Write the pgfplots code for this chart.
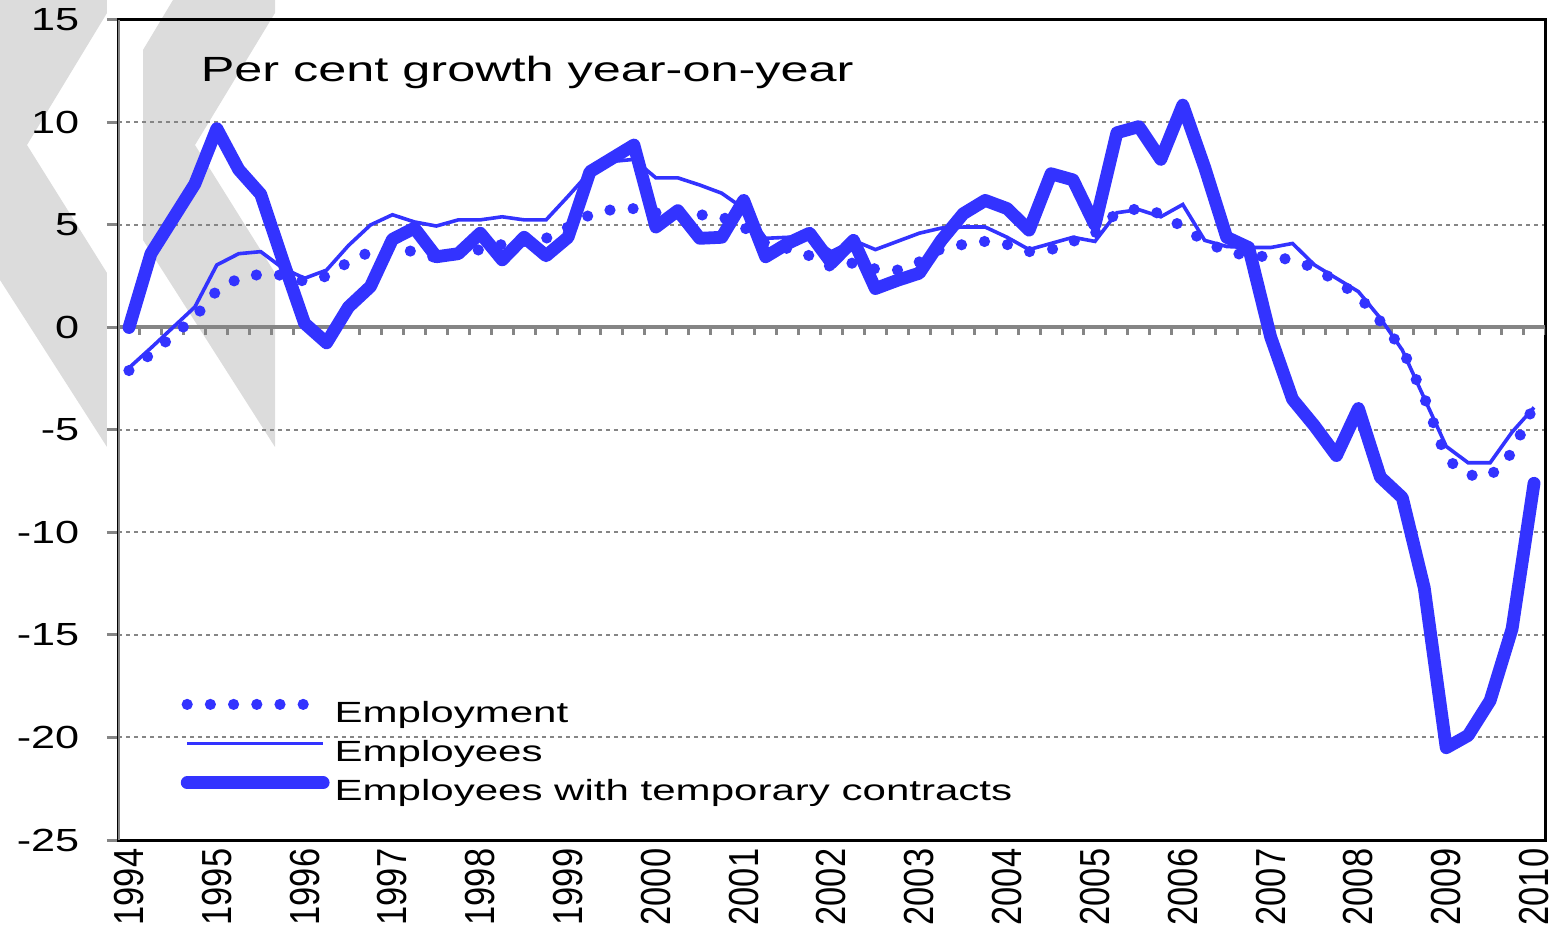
\documentclass[border=0pt]{standalone}
\usepackage{fontspec}
\setmainfont[FakeStretch=1.44]{Liberation Sans}
\newfontfamily\ytfont[FakeStretch=1.35]{Liberation Sans}
\newfontfamily\xtfont[FakeStretch=0.82]{Liberation Sans}
\usepackage{pgfplots}
\usepackage{pgfplotstable}
\pgfplotsset{compat=1.18}
\definecolor{lineblue}{HTML}{3333FF}
\definecolor{markgray}{HTML}{DCDCDC}
\definecolor{axisgray}{HTML}{858585}

% quarterly, 1994Q1 = 0 ... 2010Q1 = 64
\pgfplotstableread{
idx emp ees tmp
0 -2.1 -1.97 0.0
1 -1.3 -1.0 3.6
2 -0.4 0.0 5.3
3 0.5 1.0 7.0
4 1.8 3.05 9.7
5 2.4 3.6 7.7
6 2.6 3.7 6.5
7 2.55 2.9 3.3
8 2.25 2.4 0.2
9 2.5 2.8 -0.75
10 3.2 4.0 1.0
11 3.7 5.0 2.0
12 3.85 5.5 4.3
13 3.7 5.15 4.85
14 3.4 4.95 3.45
15 3.6 5.25 3.6
16 3.8 5.25 4.6
17 4.05 5.4 3.3
18 4.2 5.25 4.4
19 4.35 5.25 3.5
20 4.9 6.4 4.4
21 5.5 7.6 7.6
22 5.75 8.1 8.25
23 5.8 8.2 8.9
24 5.6 7.3 4.9
25 5.5 7.3 5.7
26 5.5 6.95 4.35
27 5.4 6.55 4.4
28 4.9 5.8 6.2
29 4.1 4.35 3.45
30 3.85 4.4 4.1
31 3.5 4.4 4.6
32 2.95 3.7 3.15
33 3.15 4.25 4.25
34 2.85 3.8 1.9
35 2.8 4.2 2.3
36 3.2 4.6 2.65
37 3.85 4.85 4.25
38 4.05 4.9 5.55
39 4.2 4.9 6.2
40 4.05 4.4 5.8
41 3.7 3.8 4.75
42 3.8 4.1 7.5
43 4.2 4.4 7.2
44 4.6 4.2 5.0
45 5.6 5.6 9.5
46 5.8 5.75 9.8
47 5.55 5.4 8.2
48 4.9 6.0 10.85
49 4.2 4.25 7.8
50 3.7 3.95 4.4
51 3.5 3.9 3.9
52 3.45 3.9 -0.45
53 3.3 4.1 -3.5
54 2.9 3.05 -4.8
55 2.25 2.4 -6.25
56 1.55 1.75 -3.95
57 0.3 0.45 -7.3
58 -1.05 -1.1 -8.3
59 -3.4 -3.45 -12.7
60 -6.4 -5.8 -20.5
61 -7.2 -6.6 -19.9
62 -7.25 -6.6 -18.2
63 -6.1 -5.1 -14.7
64 -3.8 -3.9 -7.6
}\datatable

\begin{document}
\begin{tikzpicture}
  % grey chevrons of the logo in the background
  \fill[markgray] (-29.5bp,210bp) -- (-2.75bp,210bp) -- (-2.75bp,206.75bp)
    -- (-22.75bp,173.75bp) -- (-2.75bp,141.75bp) -- (-2.75bp,98.25bp)
    -- (-29.5bp,140bp) -- cycle;
  \fill[markgray] (6.25bp,197.5bp) -- (13.75bp,210bp) -- (39.25bp,210bp)
    -- (39.25bp,206.75bp) -- (19.25bp,173.75bp) -- (39.25bp,141.75bp)
    -- (39.25bp,98.25bp) -- (6.25bp,150bp) -- cycle;

  \begin{axis}[
    at={(0,0)}, anchor=south west,
    width=356.75bp, height=205bp, scale only axis,
    xmin=-0.5, xmax=64.5, ymin=-25, ymax=15,
    axis line style={black, line width=0.75bp},
    xtick={0,4,...,64},
    xticklabels={1994,1995,1996,1997,1998,1999,2000,2001,2002,2003,2004,2005,2006,2007,2008,2009,2010},
    xtick style={draw=none},
    xticklabel style={font=\xtfont\fontsize{10.5bp}{10.5bp}\selectfont,
      rotate=90, anchor=east, inner sep=0pt},
    xticklabel shift=2bp,
    ytick={-25,-20,...,15},
    yticklabels={-25,-20,-15,-10,-5,0,5,10,15},
    ytick pos=left, ytick align=outside, major tick length=2.75bp,
    ytick style={axisgray, line width=0.75bp},
    yticklabel style={font=\ytfont\fontsize{8bp}{8bp}\selectfont, inner sep=0pt},
    yticklabel shift=6.75bp,
    ymajorgrids,
    grid style={axisgray, line width=0.5bp, dash pattern=on 1.1bp off 0.9bp},
    legend style={at={(15.5bp,36.1bp)}, anchor=north west, draw=none, fill=none,
      inner sep=0pt, row sep=0pt,
      font=\fontsize{7.3bp}{7.3bp}\selectfont,
      nodes={inner sep=0pt, text height=6.5bp, text depth=3.3bp},
      /tikz/every odd column/.append style={column sep=1.25bp}},
    legend cell align=left,
    legend image code/.code={\draw[#1] (0bp,2.9bp) -- (34bp,2.9bp);},
  ]
    % grey left axis and the zero line with its small ticks
    \draw[axisgray, line width=1bp] (rel axis cs:0,-0.003) -- (rel axis cs:0,1);
    \draw[axisgray, line width=1bp] (axis cs:-0.5,0) -- (axis cs:64.5,0);
    \pgfplotsinvokeforeach{0,...,64}{
      \draw[axisgray, line width=0.75bp] (axis cs:#1+0.5,0) -- ++(0pt,-2bp);
    }

    \addplot[lineblue, line width=2.8bp, line cap=round,
      dash pattern=on 0bp off 5.8bp] table[x=idx, y=emp] {\datatable};
    \addlegendentry{Employment}
    \addplot[lineblue, line width=0.9bp] table[x=idx, y=ees] {\datatable};
    \addlegendentry{Employees}
    \addplot[lineblue, line width=3.2bp, line cap=round, line join=round]
      table[x=idx, y=tmp] {\datatable};
    \addlegendentry{Employees with temporary contracts}
  \end{axis}

  \node[anchor=base west, inner sep=0pt, font=\fontsize{8.75bp}{8.75bp}\selectfont]
    at (20.5bp,189.5bp) {Per cent growth year-on-year};

  \pgfresetboundingbox
  \useasboundingbox (-29.5bp,-22bp) rectangle (360.5bp,210bp);
\end{tikzpicture}
\end{document}
